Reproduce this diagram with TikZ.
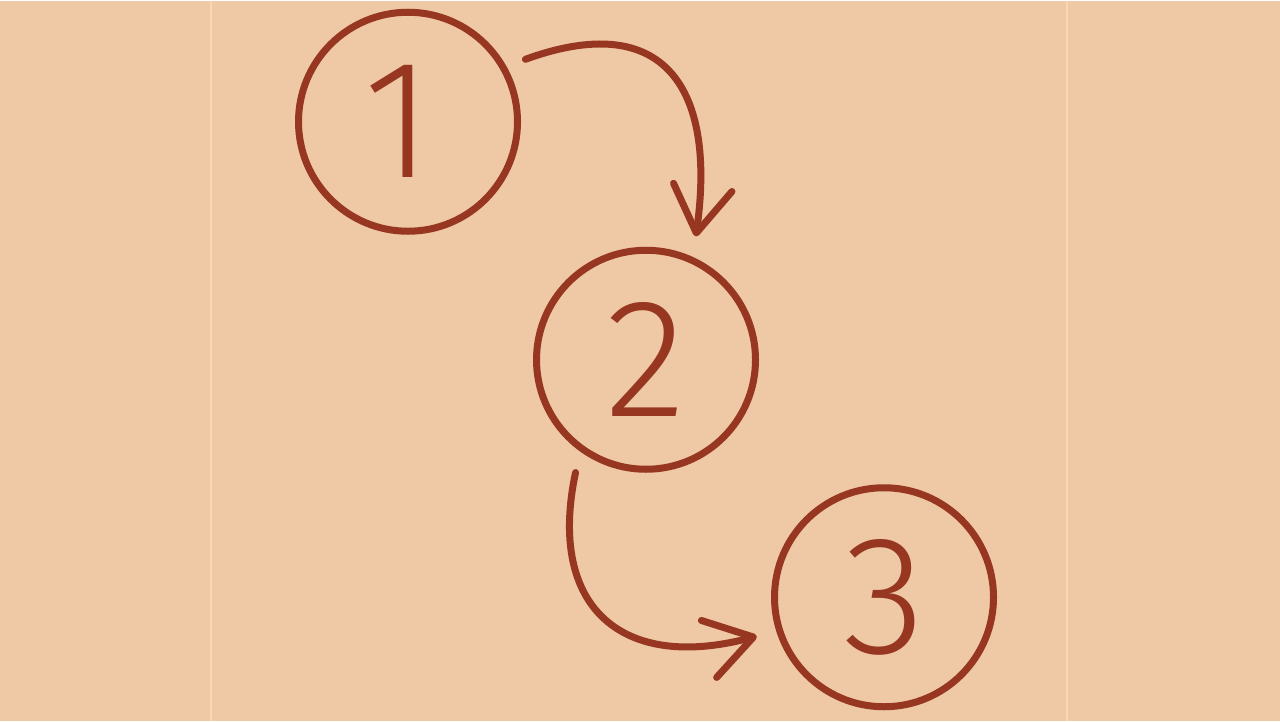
\documentclass[tikz,border=0pt]{standalone}
\usepackage{fontspec}
\usetikzlibrary{arrows.meta}
\newfontfamily\digitfont{Fira Sans Light}
\definecolor{fundo}{RGB}{239,200,165}
\definecolor{linha}{RGB}{248,214,184}
\definecolor{tijolo}{RGB}{151,55,34}
\tikzset{
  numero/.style={circle, draw=tijolo, line width=0.07cm, minimum size=2.19cm, inner sep=0pt,
    outer sep=0.235cm, text=tijolo, font=\digitfont\fontsize{48}{48}\selectfont},
  seta/.style={draw=tijolo, line width=0.07cm, line cap=round,
    -{Straight Barb[length=4.6mm,width=5.9mm,line cap=round,line join=round]}}
}
\begin{document}
\begin{tikzpicture}
            % Fundo
            \fill[fundo] (0,0) rectangle (12.8,7.2);
            \draw[linha, line width=0.015cm] (2.11,0) -- (2.11,7.2);
            \draw[linha, line width=0.015cm] (10.67,0) -- (10.67,7.2);

            % Circulos
            \node[numero] (n1) at (4.08,5.99) {\kern-0.2cm1};
            \node[numero] (n2) at (6.46,3.61) {2};
            \node[numero] (n3) at (8.84,1.235) {3};

            % Setas
            \draw[seta] (n1.28) to[out=20, in=82, looseness=1.55] (n2.68);
            \draw[seta] (n2.238) to[out=258, in=195, looseness=1.45] (n3.197);
        \end{tikzpicture}
\end{document}
